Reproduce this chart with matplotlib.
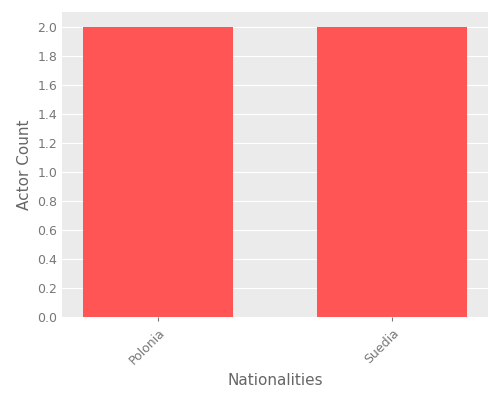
import matplotlib
matplotlib.use("Agg")
import matplotlib.pyplot as plt

nationalities = ["Polonia", "Suedia"]
actor_counts = [2, 2]

fig = plt.figure(figsize=(5, 4), dpi=100)
ax = fig.add_axes([0.124, 0.207, 0.852, 0.763])
ax.set_facecolor("#EBEBEB")
ax.bar(range(len(nationalities)), actor_counts, width=0.64, color="#FF5555", zorder=3)
ax.set_xlim(-0.41, 1.41)
ax.set_ylim(0, 2.1)
ax.set_yticks([i / 5 for i in range(11)])
ax.set_xticks(range(len(nationalities)))
ax.set_xticklabels(nationalities, rotation=45, ha="right", rotation_mode="anchor")
ax.grid(axis="y", color="white", linewidth=0.8, zorder=0)
for s in ax.spines.values():
    s.set_visible(False)
ax.tick_params(colors="#777777", labelsize=9, length=3)
ax.tick_params(axis="y", length=0)
ax.set_xlabel("Nationalities", color="#666666", fontsize=11)
ax.set_ylabel("Actor Count", color="#666666", fontsize=11)

plt.savefig("out.png")
